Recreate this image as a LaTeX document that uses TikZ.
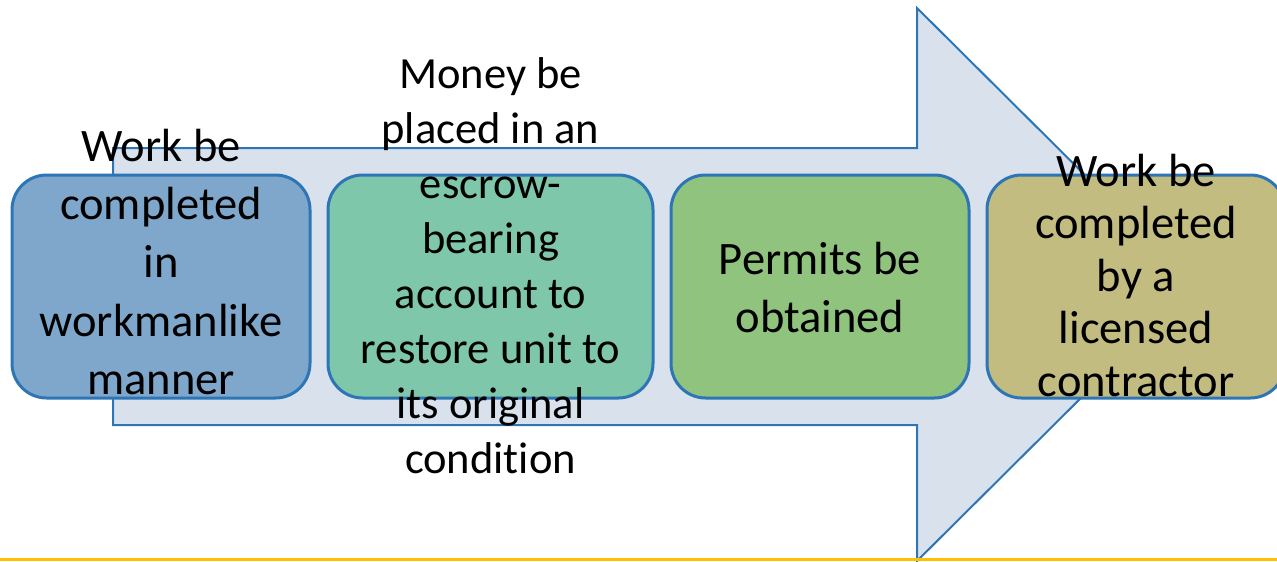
\documentclass[tikz,border=0pt]{standalone}
\usepackage{fontspec}
\setmainfont{Carlito}[Ligatures=NoCommon]
\usetikzlibrary{positioning}
\definecolor{arrowfill}{HTML}{D9E2EC}
\definecolor{edgeblue}{HTML}{2E75B6}
\definecolor{stepblue}{HTML}{7EA7CB}
\definecolor{stepteal}{HTML}{7FC7AA}
\definecolor{stepgreen}{HTML}{90C47E}
\definecolor{stepkhaki}{HTML}{C2BC80}
\definecolor{footyellow}{HTML}{FFC000}
\tikzset{
  stepbox/.style={draw=edgeblue, line width=2.25pt, rounded corners=26pt,
    minimum width=223.5pt, minimum height=167.25pt, inner sep=0pt, outer sep=0pt},
  steptext/.style={align=center, inner sep=0pt, text=black}
}
\begin{document}
\begin{tikzpicture}[x=0.75pt, y=-0.75pt]
            \useasboundingbox (0,0) rectangle (1277,561);
            % big arrow behind the steps
            \draw[fill=arrowfill, draw=edgeblue, line width=1.5pt] (113,148) -- (917,148) -- (917,8) -- (1195,284.5) -- (917,561) -- (917,425) -- (113,425) -- cycle;
            % the four steps
            \node[stepbox, fill=stepblue] (b1) at (161,286.5) {};
            \node[stepbox, fill=stepteal, minimum width=243.75pt, right=13.5pt of b1] (b2) {};
            \node[stepbox, fill=stepgreen, right=13.5pt of b2] (b3) {};
            \node[stepbox, fill=stepkhaki, right=13.5pt of b3] (b4) {};
            \node[steptext, font=\fontsize{34.9}{43.7}\selectfont, yshift=18.5pt] (t1) at (b1.center) {Work be\\completed\\in\\workmanlike\\manner};
            \node[steptext, font=\fontsize{33.4}{41.25}\selectfont, yshift=15.8pt] (t2) at (b2.center) {Money be\\placed in an\\escrow-\\bearing\\account to\\restore unit to\\its original\\condition};
            \node[steptext, font=\fontsize{34.9}{43.5}\selectfont, yshift=-0.4pt] (t3) at (b3.center) {Permits be\\obtained};
            \node[steptext, font=\fontsize{34.9}{39.4}\selectfont, yshift=8.3pt] (t4) at (b4.center) {Work be\\completed\\by a\\licensed\\contractor};
            % footer rule
            \draw[footyellow, line width=2.25pt] (0,559.5) -- (1277,559.5);
        \end{tikzpicture}
\end{document}
